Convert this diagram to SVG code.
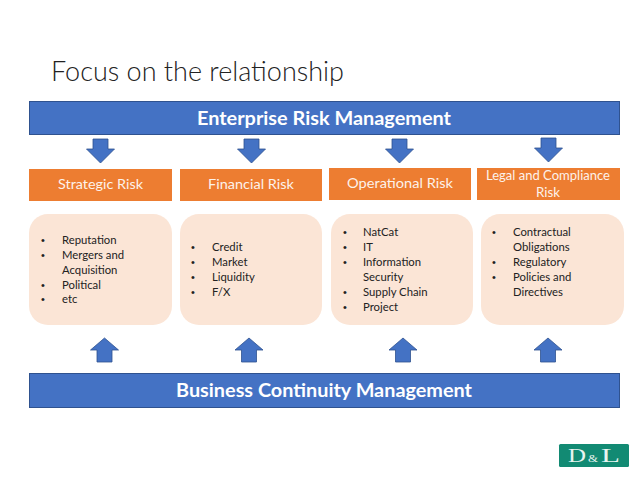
<svg xmlns="http://www.w3.org/2000/svg" width="638" height="479" viewBox="0 0 638 479">
<style>
text{font-family:Lato,"Liberation Sans",sans-serif}
.bar{fill:#4472c4;stroke:#2f528f;stroke-width:1}
.org{fill:#ed7d31}
.pch{fill:#fbe5d6}
.arr{fill:#4472c4;stroke:#2f528f;stroke-width:.8}
.bt{font-size:18.5px;font-weight:700;fill:#fff;text-anchor:middle}
.ot{font-size:13.5px;fill:#fff;text-anchor:middle;opacity:.9}
.li{font-size:11.3px;fill:#222}
.li text.bu{font-family:"Liberation Sans",sans-serif;font-size:11px}
.lg{font-size:18px;fill:#e8f4f0;font-family:"Liberation Serif",serif}
</style>
<rect width="638" height="479" fill="#fff"/>
<text x="51" y="81" font-size="27.500" font-weight="300" fill="#222" textLength="293" lengthAdjust="spacingAndGlyphs">Focus on the relationship</text>
<g id="erm"><rect class="bar" x="29.500" y="101.500" width="590" height="33"/><text class="bt" x="324" y="125" textLength="254" lengthAdjust="spacingAndGlyphs">Enterprise Risk Management</text></g>
<g id="bcm"><rect class="bar" x="29.500" y="373.500" width="590" height="34"/><text class="bt" x="324" y="397" textLength="296" lengthAdjust="spacingAndGlyphs">Business Continuity Management</text></g>
<g id="connectors">
<path class="arr" d="M93 139h15v10h6.500l-14 14-14-14h6.500z"/>
<path class="arr" d="M244 139h15v10h6.500l-14 14-14-14h6.500z"/>
<path class="arr" d="M392 139h15v10h6.500l-14 14-14-14h6.500z"/>
<path class="arr" d="M541 138h15v10h6.500l-14 14-14-14h6.500z"/>
<path class="arr" d="M104.500 338l14 12h-6.500v12h-15v-12h-6.500z"/>
<path class="arr" d="M249 338l14 12h-6.500v12h-15v-12h-6.500z"/>
<path class="arr" d="M403 338l14 12h-6.500v12h-15v-12h-6.500z"/>
<path class="arr" d="M548 338l14 12h-6.500v12h-15v-12h-6.500z"/>
</g>
<g id="strategic"><rect class="org" x="29" y="169" width="143" height="32"/><text class="ot" x="100.500" y="189" textLength="85" lengthAdjust="spacingAndGlyphs">Strategic Risk</text></g>
<g id="financial"><rect class="org" x="180" y="169" width="142" height="32"/><text class="ot" x="251" y="189" textLength="86" lengthAdjust="spacingAndGlyphs">Financial Risk</text></g>
<g id="operational"><rect class="org" x="329" y="168" width="142" height="32"/><text class="ot" x="400" y="188" textLength="106" lengthAdjust="spacingAndGlyphs">Operational Risk</text></g>
<g id="legal"><rect class="org" x="477" y="168" width="143" height="32"/><text class="ot" x="548" y="180" font-size="12.500" textLength="124" lengthAdjust="spacingAndGlyphs">Legal and Compliance</text><text class="ot" x="548" y="197" textLength="24" lengthAdjust="spacingAndGlyphs">Risk</text></g>
<g id="box1"><rect class="pch" x="29" y="214" width="143" height="111" rx="19"/>
<g class="li"><text class="bu" x="41" y="244">•</text><text x="62" y="244">Reputation</text><text class="bu" x="41" y="259">•</text><text x="62" y="259">Mergers and</text><text x="62" y="274">Acquisition</text><text class="bu" x="41" y="289">•</text><text x="62" y="289">Political</text><text class="bu" x="41" y="303">•</text><text x="62" y="303">etc</text></g></g>
<g id="box2"><rect class="pch" x="180" y="214" width="142" height="111" rx="19"/>
<g class="li"><text class="bu" x="191" y="251">•</text><text x="212" y="251">Credit</text><text class="bu" x="191" y="266">•</text><text x="212" y="266">Market</text><text class="bu" x="191" y="281">•</text><text x="212" y="281">Liquidity</text><text class="bu" x="191" y="296">•</text><text x="212" y="296">F/X</text></g></g>
<g id="box3"><rect class="pch" x="331" y="214" width="142" height="111" rx="19"/>
<g class="li"><text class="bu" x="343" y="236">•</text><text x="363" y="236">NatCat</text><text class="bu" x="343" y="251">•</text><text x="363" y="251">IT</text><text class="bu" x="343" y="266">•</text><text x="363" y="266">Information</text><text x="363" y="281">Security</text><text class="bu" x="343" y="296">•</text><text x="363" y="296">Supply Chain</text><text class="bu" x="343" y="311">•</text><text x="363" y="311">Project</text></g></g>
<g id="box4"><rect class="pch" x="481" y="214" width="143" height="111" rx="19"/>
<g class="li"><text class="bu" x="492" y="236">•</text><text x="513" y="236">Contractual</text><text x="513" y="251">Obligations</text><text class="bu" x="492" y="266">•</text><text x="513" y="266">Regulatory</text><text class="bu" x="492" y="281">•</text><text x="513" y="281">Policies and</text><text x="513" y="296">Directives</text></g></g>
<g id="logo"><rect x="559" y="444" width="70" height="23" rx="1.500" fill="#128a73"/><text class="lg" x="568" y="461.500" textLength="18" lengthAdjust="spacingAndGlyphs">D</text><text class="lg" x="588" y="461.500" style="font-size:11px" textLength="10" lengthAdjust="spacingAndGlyphs">&amp;</text><text class="lg" x="601" y="461.500" textLength="19" lengthAdjust="spacingAndGlyphs">L</text></g>
</svg>
